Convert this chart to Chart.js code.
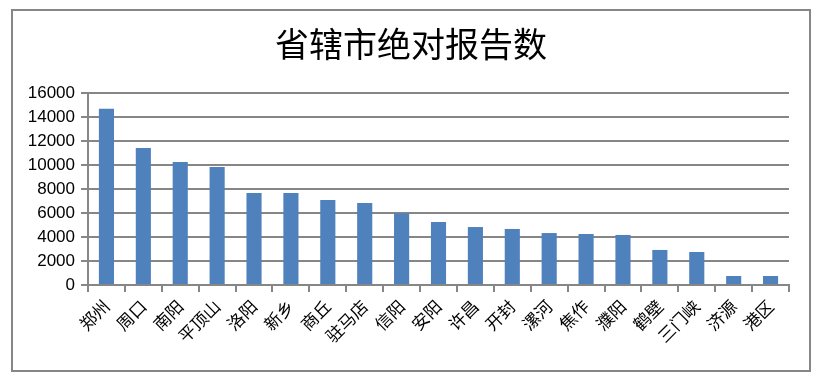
<!DOCTYPE html>
<html>
<head>
<meta charset="utf-8">
<script src="https://cdn.jsdelivr.net/npm/chart.js@4"></script>
<style>
    html, body { margin: 0; padding: 0; background: #fff; }
    #wrap { width: 825px; height: 383px; }
</style>
</head>
<body>
<div id="wrap"><canvas id="chart" width="825" height="383"></canvas></div>
<script>
const title = "省辖市绝对报告数";
const cities = ["郑州", "周口", "南阳", "平顶山", "洛阳", "新乡", "商丘", "驻马店", "信阳", "安阳",
                "许昌", "开封", "漯河", "焦作", "濮阳", "鹤壁", "三门峡", "济源", "港区"];
const reports = [14680, 11420, 10250, 9830, 7670, 7670, 7080, 6830, 5970, 5250,
                 4830, 4670, 4330, 4250, 4170, 2920, 2750, 750, 750];
const yTicks = [0, 2000, 4000, 6000, 8000, 10000, 12000, 14000, 16000];

const gray = "#868686";

// border round the whole chart and the title
const frame = {
    id: "frame",
    beforeDraw(chart) {
        const ctx = chart.ctx;
        ctx.save();
        ctx.fillStyle = "#fff";
        ctx.fillRect(0, 0, chart.width, chart.height);
        ctx.restore();
    },
    afterDraw(chart) {
        const ctx = chart.ctx;
        ctx.save();
        ctx.strokeStyle = gray;
        ctx.lineWidth = 2;
        ctx.strokeRect(12, 10, 798, 361);
        ctx.fillStyle = "#000";
        ctx.font = '34px "Noto Sans CJK SC"';
        ctx.textAlign = "center";
        ctx.textBaseline = "middle";
        ctx.fillText(title, 411, 44);
        ctx.restore();
    }
};

new Chart(document.getElementById("chart"), {
    type: "bar",
    data: {
        labels: cities,
        datasets: [{
            data: reports,
            backgroundColor: "#4F81BD",
            barPercentage: 0.82,
            categoryPercentage: 0.5
        }]
    },
    options: {
        responsive: false,
        animation: false,
        events: [],
        layout: { padding: { left: 12, right: 36, top: 93, bottom: 0 } },
        plugins: {
            legend: { display: false },
            tooltip: { enabled: false }
        },
        scales: {
            x: {
                grid: { drawOnChartArea: false, drawTicks: true, tickLength: 7, color: gray, lineWidth: 2 },
                border: { color: gray, width: 2 },
                ticks: {
                    color: "#000",
                    font: { family: '"Noto Sans CJK SC"', size: 17 },
                    minRotation: 45,
                    maxRotation: 45,
                    autoSkip: false,
                    padding: 4
                },
                afterFit(scale) { scale.height = 98; }
            },
            y: {
                min: 0,
                max: 16000,
                afterBuildTicks(scale) { scale.ticks = yTicks.map(v => ({ value: v })); },
                grid: { color: gray, lineWidth: 2, tickLength: 7 },
                border: { color: gray, width: 2 },
                ticks: {
                    color: "#000",
                    font: { family: '"Liberation Sans"', size: 17 },
                    padding: 6,
                    callback: v => String(v)
                },
                afterFit(scale) { scale.width = 76; }
            }
        }
    },
    plugins: [frame]
});
</script>
</body>
</html>
